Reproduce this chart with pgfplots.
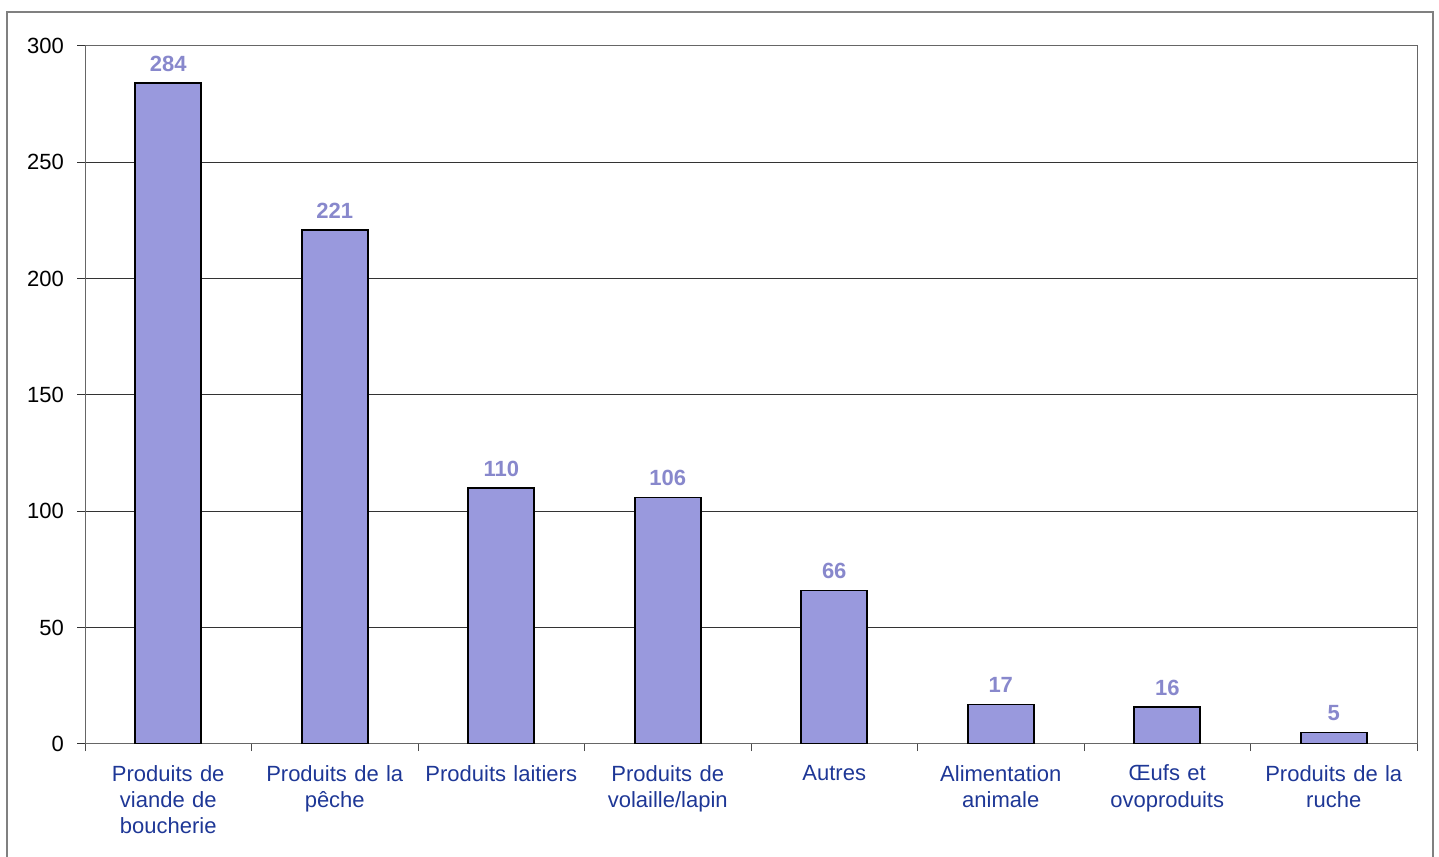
\documentclass[border=0pt]{standalone}
\usepackage{fontspec}
\setmainfont{Liberation Sans}
\usepackage{pgfplots}
\pgfplotsset{compat=1.18}
\definecolor{barfill}{RGB}{153,153,221}
\definecolor{vallab}{RGB}{136,136,204}
\definecolor{catblue}{RGB}{30,55,150}

\begin{document}
\begin{tikzpicture}[x=1pt,y=1pt]
\useasboundingbox (0,0) rectangle (719.5,428);
\draw[gray, line width=0.6pt] (3.5,-5) rectangle (716.5,422);
\begin{axis}[
    at={(42.5pt,56pt)},
    anchor=south west,
    scale only axis,
    width=666pt,
    height=349pt,
    ybar,
    bar width=33pt,
    xmin=0.5, xmax=8.5,
    ymin=0, ymax=300,
    ytick={0,50,...,300},
    xtick={1,...,8},
    xticklabels={{Produits de\\viande de\\boucherie},{Produits de la\\pêche},{Produits laitiers},{Produits de\\volaille/lapin},{Autres},{Alimentation\\animale},{Œufs et\\ovoproduits},{Produits de la\\ruche}},
    minor xtick={0.5,1.5,...,8.5},
    xticklabel style={text width=82pt, align=center, font=\fontsize{11}{13.2}\selectfont, text=catblue, yshift=-3pt},
    yticklabel style={font=\fontsize{11}{12}\selectfont, xshift=-3pt},
    /pgf/number format/assume math mode=true,
    tick align=outside,
    tick pos=left,
    major tick length=4pt,
    x tick style={draw=none},
    minor x tick style={draw=black!70, line width=0.5pt},
    minor tick length=3.5pt,
    ymajorgrids,
    grid style={black!80, line width=0.5pt},
    axis line style={black!60, line width=0.5pt},
    y tick style={black!80, line width=0.5pt},
    nodes near coords,
    nodes near coords style={font=\fontsize{11}{12}\selectfont\bfseries, text=vallab, yshift=2pt},
]
\addplot[fill=barfill, draw=black, line width=0.8pt] coordinates {
    (1,284) (2,221) (3,110) (4,106) (5,66) (6,17) (7,16) (8,5)
};
\end{axis}
\end{tikzpicture}
\end{document}
